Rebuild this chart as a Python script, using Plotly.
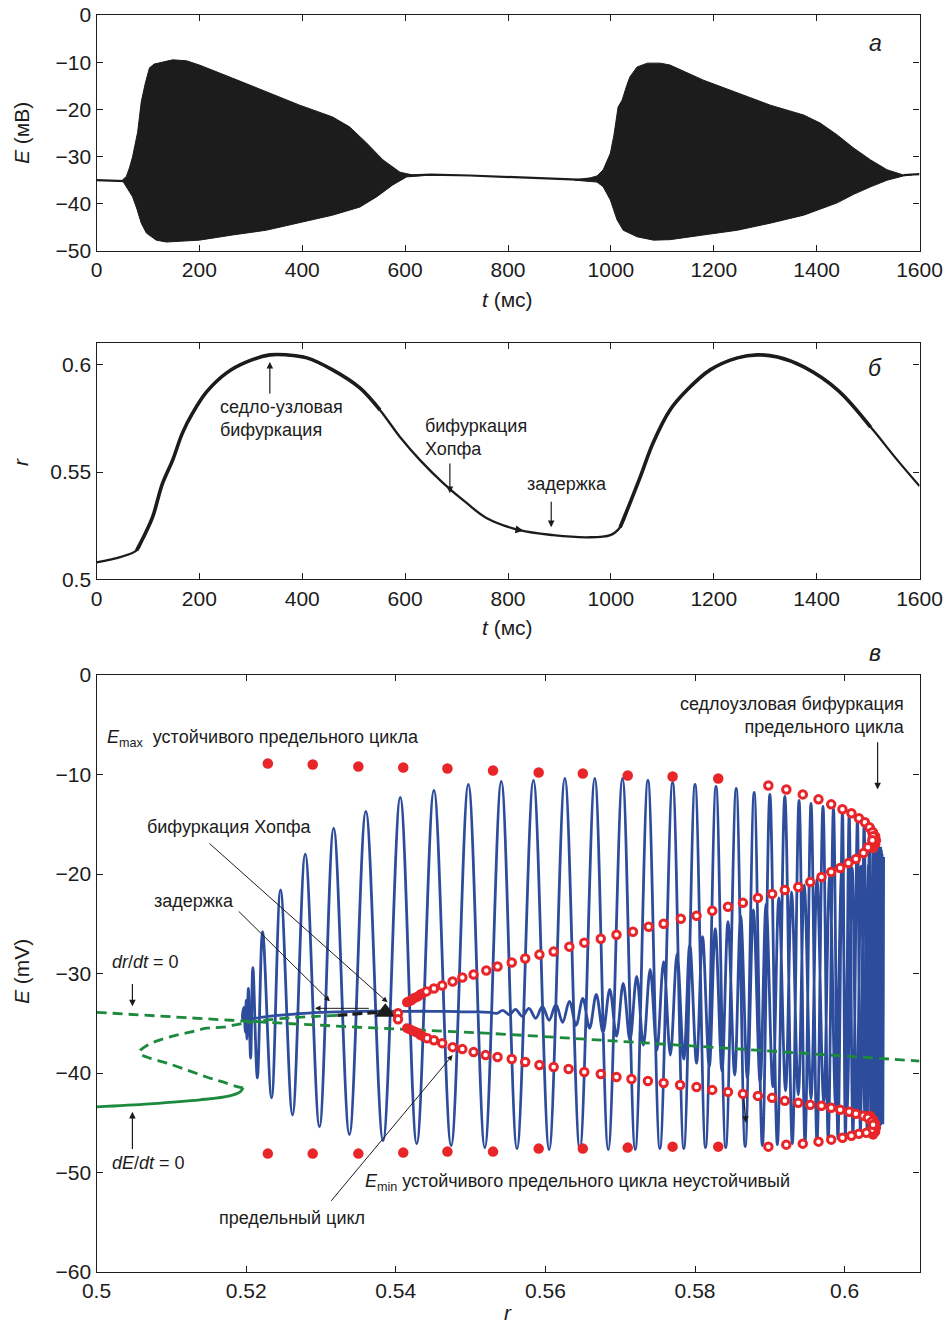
import plotly.graph_objects as go

W, H = 952, 1327
FONT = "Liberation Sans, Arial, sans-serif"
BLACK = "#1c1c1c"
BLUE = "#2e4c9c"
GREEN = "#1b8a3c"
RED = "#e8262a"

def px(x):
    return x / W

def py(y):
    return 1 - y / H

# ---------------- Panel a: E(t) ----------------
t_quiet_a = [0, 30, 55]
E_quiet_a = [-35.0, -35.1, -35.2]
t_quiet_b = [600, 650, 726, 800, 921, 960]
E_quiet_b = [-34.0, -33.8, -34.0, -34.3, -34.9, -35.0]
t_quiet_c = [1569, 1600]
E_quiet_c = [-33.9, -33.7]

t_up1 = [50, 58, 64, 70, 80, 87, 95, 103, 112, 136, 148, 175, 200, 265, 330, 395, 459, 492, 525, 557, 590, 615, 640]
E_up1 = [-35.0, -34.2, -32.4, -30.1, -24.8, -18.4, -14.4, -11.2, -10.4, -9.9, -9.5, -9.7, -10.6, -13.4, -16.3, -19.1, -21.6, -23.7, -27.1, -30.7, -33.3, -33.9, -33.9]
t_lo1 = [50, 58, 70, 78, 87, 97, 116, 136, 200, 265, 330, 395, 459, 512, 545, 576, 603, 640]
E_lo1 = [-35.0, -36.4, -38.5, -40.9, -44.1, -46.2, -47.7, -48.1, -47.7, -46.6, -45.6, -44.0, -42.4, -40.7, -38.5, -36.0, -34.3, -34.0]

t_up2 = [930, 960, 973, 985, 999, 1006, 1014, 1022, 1030, 1037, 1051, 1071, 1096, 1115, 1180, 1246, 1310, 1375, 1407, 1440, 1472, 1505, 1537, 1569, 1585]
E_up2 = [-34.9, -34.5, -34.1, -32.8, -29.3, -25.4, -19.5, -18.0, -15.2, -13.1, -11.0, -10.2, -10.2, -10.6, -13.8, -16.5, -19.1, -21.2, -22.9, -25.4, -28.2, -30.7, -32.8, -33.9, -33.8]
t_lo2 = [930, 960, 973, 985, 999, 1012, 1024, 1051, 1083, 1115, 1180, 1246, 1310, 1375, 1440, 1472, 1505, 1537, 1569, 1585]
E_lo2 = [-35.0, -35.3, -35.4, -36.4, -39.2, -43.4, -45.6, -47.0, -47.7, -47.6, -46.6, -45.6, -44.1, -42.4, -39.8, -38.0, -36.4, -35.0, -34.1, -33.9]

# ---------------- Panel б: r(t) ----------------
t_r = [0, 78, 90, 109, 128, 148, 167, 187, 214, 253, 292, 337, 370, 409, 459, 512, 551, 590, 629, 674,
       720, 759, 823, 888, 953, 999, 1018, 1037, 1057, 1082, 1115, 1148, 1193, 1246, 1285, 1324, 1375,
       1441, 1505, 1557, 1600]
r_t = [0.5079, 0.5135, 0.519, 0.529, 0.5445, 0.5556, 0.5682, 0.5776, 0.5874, 0.5963, 0.6014, 0.6047,
       0.6047, 0.6033, 0.5977, 0.5893, 0.579, 0.5664, 0.5556, 0.5449, 0.5355, 0.5285, 0.5229, 0.5206,
       0.5196, 0.5206, 0.5243, 0.5355, 0.5477, 0.5636, 0.579, 0.5883, 0.5977, 0.6033, 0.6047, 0.6037,
       0.5991, 0.5883, 0.571, 0.5556, 0.5435]
# time windows in which r(t) carries the spiking ripple (thicker trace)
burst_windows = [(78, 551), (1018, 1505)]

# ---------------- Panel в: E vs r ----------------
# rising phase of the burst: spike peaks and troughs
r_rise_pk = [0.5197, 0.5200, 0.5203, 0.5209, 0.5222, 0.5246, 0.5279, 0.5317, 0.5360, 0.5406, 0.5451,
             0.5497, 0.5541, 0.5584, 0.5626, 0.5666, 0.5703, 0.5737, 0.5770, 0.5800, 0.5828, 0.5855,
             0.5879, 0.5900, 0.5920, 0.5939, 0.5955, 0.5971, 0.5985, 0.5997, 0.6006, 0.6017, 0.6026,
             0.6033, 0.6038, 0.6042, 0.6045, 0.6048, 0.6049, 0.6050]
E_rise_pk = [-33.4, -32.7, -31.5, -29.4, -25.8, -21.6, -18.0, -15.4, -13.7, -12.3, -11.6, -11.0, -10.7,
             -10.6, -10.4, -10.4, -10.4, -10.6, -10.8, -11.0, -11.2, -11.4, -11.8, -12.0, -12.2, -12.6,
             -12.9, -13.2, -13.4, -13.8, -14.1, -14.6, -15.1, -15.6, -16.1, -16.6, -17.0, -17.4, -17.7, -18.0]
r_rise_tr = [0.5199, 0.5201, 0.5206, 0.5215, 0.5234, 0.5262, 0.5298, 0.5338, 0.5383, 0.5428, 0.5474,
             0.5519, 0.5562, 0.5605, 0.5646, 0.5684, 0.5720, 0.5753, 0.5785, 0.5814, 0.5841, 0.5867,
             0.5890, 0.5910, 0.5930, 0.5947, 0.5963, 0.5978, 0.5991, 0.6001, 0.6011, 0.6021, 0.6030,
             0.6035, 0.6040, 0.6043, 0.6046, 0.6048, 0.6049, 0.6051]
E_rise_tr = [-35.9, -36.6, -38.5, -40.5, -42.5, -44.2, -45.4, -46.2, -46.8, -47.1, -47.3, -47.5, -47.6,
             -47.7, -47.7, -47.7, -47.7, -47.6, -47.6, -47.5, -47.5, -47.4, -47.3, -47.2, -47.1, -47.0,
             -46.9, -46.7, -46.6, -46.4, -46.2, -46.0, -45.8, -45.6, -45.5, -45.4, -45.3, -45.2, -45.1, -45.0]
# falling phase: decaying oscillations while r decreases
r_fall_pk = [0.6052, 0.6050, 0.6046, 0.6040, 0.6032, 0.6022, 0.6010, 0.5996, 0.5980, 0.5963, 0.5946,
             0.5929, 0.5912, 0.5895, 0.5878, 0.5861, 0.5844, 0.5827, 0.5810, 0.5793, 0.5776, 0.5758,
             0.5740, 0.5722, 0.5704, 0.5686, 0.5668, 0.5650, 0.5632, 0.5614, 0.5596, 0.5578, 0.5560, 0.5543]
E_fall_pk = [-18.3, -18.5, -18.7, -18.9, -19.0, -19.2, -19.4, -19.7, -20.1, -20.5, -21.1, -21.8, -22.4,
             -23.0, -23.6, -24.2, -24.8, -25.5, -26.3, -27.1, -28.0, -28.8, -29.6, -30.3, -31.0, -31.6,
             -32.1, -32.5, -32.8, -33.1, -33.3, -33.5, -33.6, -33.7]
r_fall_tr = [0.6051, 0.6048, 0.6043, 0.6036, 0.6027, 0.6016, 0.6003, 0.5988, 0.5972, 0.5955, 0.5938,
             0.5921, 0.5904, 0.5887, 0.5870, 0.5853, 0.5836, 0.5819, 0.5802, 0.5785, 0.5767, 0.5749,
             0.5731, 0.5713, 0.5695, 0.5677, 0.5659, 0.5641, 0.5623, 0.5605, 0.5587, 0.5569, 0.5552, 0.5535]
E_fall_tr = [-45.0, -44.9, -44.7, -44.5, -44.3, -44.1, -43.8, -43.4, -43.0, -42.6, -42.2, -41.8, -41.4,
             -41.0, -40.6, -40.2, -39.8, -39.4, -39.0, -38.6, -38.2, -37.7, -37.2, -36.7, -36.3, -35.9,
             -35.5, -35.2, -34.9, -34.7, -34.5, -34.3, -34.15, -34.0]
# slow passage (delay) back along the equilibrium
r_delay = [0.5525, 0.5500, 0.5450, 0.5400, 0.5350, 0.5300, 0.5260, 0.5230, 0.5210, 0.5196]
E_delay = [-33.9, -33.85, -33.8, -33.8, -33.8, -33.9, -34.1, -34.3, -34.5, -34.7]

# nullclines
r_drdt = [0.5, 0.518, 0.535, 0.552, 0.58, 0.61]
E_drdt = [-33.9, -34.7, -35.4, -36.0, -37.3, -38.8]
r_dEdt_solid = [0.5, 0.5071, 0.5138, 0.5178, 0.5192, 0.5196]
E_dEdt_solid = [-43.4, -43.1, -42.7, -42.3, -41.9, -41.5]
r_dEdt_dash = [0.5196, 0.5189, 0.5169, 0.5147, 0.5121, 0.5094, 0.5071, 0.5059, 0.5058, 0.5064, 0.5080,
               0.5102, 0.5125, 0.5147, 0.5169, 0.5196, 0.5236, 0.5268, 0.5295, 0.5322]
E_dEdt_dash = [-41.5, -41.4, -40.9, -40.4, -39.7, -39.0, -38.5, -38.1, -37.8, -37.4, -36.8, -36.3, -35.9,
               -35.5, -35.4, -35.0, -34.6, -34.4, -34.3, -34.2]
r_unst_eq = [0.5322, 0.5376]
E_unst_eq = [-34.2, -33.9]
r_hopf = [0.5386]
E_hopf = [-33.9]

# limit cycle extrema
r_stab_fill = [0.5229, 0.5289, 0.5350, 0.5410, 0.5469, 0.5530, 0.5591, 0.5650, 0.5710, 0.5770, 0.5831]
Emax_stab_fill = [-8.9, -9.0, -9.2, -9.3, -9.4, -9.6, -9.8, -9.9, -10.1, -10.2, -10.4]
Emin_stab_fill = [-48.1, -48.1, -48.1, -48.0, -47.9, -47.9, -47.6, -47.6, -47.5, -47.4, -47.4]
r_stab_open_up = [0.5898, 0.5922, 0.5944, 0.5965, 0.5982, 0.5997, 0.6009, 0.6019, 0.6027, 0.6033, 0.6037, 0.6038, 0.6037]
E_stab_open_up = [-11.1, -11.5, -12.0, -12.5, -13.0, -13.5, -13.9, -14.4, -14.8, -15.3, -15.8, -16.2, -16.6]
r_stab_open_lo = [0.6036, 0.6029, 0.6019, 0.6009, 0.5997, 0.5982, 0.5965, 0.5944, 0.5922, 0.5898]
E_stab_open_lo = [-45.7, -46.0, -46.1, -46.3, -46.5, -46.7, -46.9, -47.1, -47.2, -47.4]
r_unst_up = [0.6031, 0.6025, 0.6015, 0.6005, 0.5994, 0.5982, 0.5969, 0.5954, 0.5938, 0.5920, 0.5903,
             0.5884, 0.5864, 0.5844, 0.5823, 0.5802, 0.5781, 0.5758, 0.5738, 0.5717, 0.5695, 0.5674,
             0.5652, 0.5632, 0.5611, 0.5592, 0.5573, 0.5555, 0.5536, 0.5521, 0.5504, 0.5489, 0.5476,
             0.5462, 0.5451, 0.5441, 0.5403, 0.5403]
E_unst_up = [-17.3, -17.9, -18.5, -18.9, -19.4, -19.8, -20.3, -20.8, -21.3, -21.6, -22.0, -22.4, -22.9,
             -23.3, -23.7, -24.2, -24.5, -25.0, -25.3, -25.8, -26.1, -26.5, -26.9, -27.3, -27.8, -28.1,
             -28.5, -28.9, -29.3, -29.7, -30.1, -30.4, -30.8, -31.2, -31.5, -31.8, -34.0, -34.6]
r_unst_lo = [0.5442, 0.5451, 0.5462, 0.5476, 0.5489, 0.5504, 0.5520, 0.5536, 0.5555, 0.5573, 0.5592,
             0.5611, 0.5631, 0.5652, 0.5674, 0.5695, 0.5715, 0.5737, 0.5758, 0.5780, 0.5802, 0.5823,
             0.5844, 0.5864, 0.5884, 0.5903, 0.5920, 0.5938, 0.5954, 0.5969, 0.5982, 0.5994, 0.6006,
             0.6015, 0.6025, 0.6031, 0.6036, 0.6038]
E_unst_lo = [-36.5, -36.7, -37.0, -37.4, -37.6, -37.9, -38.2, -38.4, -38.6, -38.9, -39.2, -39.4, -39.6,
             -39.9, -40.1, -40.4, -40.6, -40.8, -41.0, -41.2, -41.4, -41.7, -41.9, -42.1, -42.3, -42.5,
             -42.8, -43.0, -43.2, -43.3, -43.5, -43.7, -43.9, -44.1, -44.3, -44.5, -44.9, -45.2]
# densely packed extrema (merge into solid red)
r_dense = [0.5415, 0.5418, 0.5421, 0.5424, 0.5427, 0.5430, 0.5433, 0.5436,
           0.5415, 0.5418, 0.5421, 0.5424, 0.5427, 0.5430, 0.5433, 0.5436,
           0.6034, 0.6038, 0.6041, 0.6042, 0.6041, 0.6038,
           0.6034, 0.6038, 0.6041, 0.6042, 0.6041, 0.6038]
E_dense = [-32.9, -32.8, -32.7, -32.5, -32.4, -32.3, -32.1, -32.0,
           -35.5, -35.6, -35.7, -35.8, -35.9, -36.0, -36.2, -36.3,
           -15.4, -15.8, -16.2, -16.6, -17.0, -17.4,
           -44.3, -44.7, -45.1, -45.5, -45.9, -46.2]

AX = dict(showline=True, linecolor=BLACK, linewidth=1.3, mirror="ticks", ticks="inside",
          ticklen=6, tickwidth=1.2, tickcolor=BLACK, showgrid=False, zeroline=False,
          automargin=False, tickfont=dict(family=FONT, size=21, color=BLACK))
XDOM = [px(96.5), px(919.5)]

fig = go.Figure()

# ----- panel a traces
for tq, eq in [(t_quiet_a, E_quiet_a), (t_quiet_b, E_quiet_b), (t_quiet_c, E_quiet_c)]:
    fig.add_trace(go.Scatter(x=tq, y=eq, xaxis="x", yaxis="y", mode="lines",
                             line=dict(color=BLACK, width=2.2), hoverinfo="skip"))
for tu, eu, tl, el in [(t_up1, E_up1, t_lo1, E_lo1), (t_up2, E_up2, t_lo2, E_lo2)]:
    fig.add_trace(go.Scatter(x=tu + tl[::-1], y=eu + el[::-1], xaxis="x", yaxis="y", mode="lines",
                             fill="toself", fillcolor=BLACK, line=dict(color=BLACK, width=1),
                             hoverinfo="skip"))

# ----- panel б
fig.add_trace(go.Scatter(x=t_r, y=r_t, xaxis="x2", yaxis="y2", mode="lines", line_shape="spline",
                         line=dict(color=BLACK, width=2.3), hoverinfo="skip"))
for t0, t1 in burst_windows:
    sel = [i for i, tv in enumerate(t_r) if t0 <= tv <= t1]
    fig.add_trace(go.Scatter(x=[t_r[i] for i in sel], y=[r_t[i] for i in sel], xaxis="x2", yaxis="y2",
                             mode="lines", line_shape="spline", line=dict(color=BLACK, width=3.6),
                             hoverinfo="skip"))

# ----- panel в: trajectory
r_path = [r_delay[-1]]
E_path = [E_delay[-1]]
for a, b, c, d in zip(r_rise_pk, E_rise_pk, r_rise_tr, E_rise_tr):
    r_path += [a, c]
    E_path += [b, d]
for a, b, c, d in zip(r_fall_pk, E_fall_pk, r_fall_tr, E_fall_tr):
    r_path += [a, c]
    E_path += [b, d]
r_path += r_delay
E_path += E_delay
fig.add_trace(go.Scatter(x=r_path, y=E_path, xaxis="x3", yaxis="y3", mode="lines", line_shape="spline",
                         line=dict(color=BLUE, width=2.8), hoverinfo="skip"))

# nullclines
fig.add_trace(go.Scatter(x=r_drdt, y=E_drdt, xaxis="x3", yaxis="y3", mode="lines", line_shape="spline",
                         line=dict(color=GREEN, width=2.8, dash="10px,6px"), hoverinfo="skip"))
fig.add_trace(go.Scatter(x=r_dEdt_solid, y=E_dEdt_solid, xaxis="x3", yaxis="y3", mode="lines",
                         line_shape="spline", line=dict(color=GREEN, width=2.8), hoverinfo="skip"))
fig.add_trace(go.Scatter(x=r_dEdt_dash, y=E_dEdt_dash, xaxis="x3", yaxis="y3", mode="lines",
                         line_shape="spline", line=dict(color=GREEN, width=2.8, dash="10px,6px"),
                         hoverinfo="skip"))
fig.add_trace(go.Scatter(x=r_unst_eq, y=E_unst_eq, xaxis="x3", yaxis="y3", mode="lines",
                         line=dict(color=BLACK, width=3.2, dash="10px,5px"), hoverinfo="skip"))
fig.add_trace(go.Scatter(x=r_hopf, y=E_hopf, xaxis="x3", yaxis="y3", mode="markers",
                         marker=dict(symbol="triangle-up", size=18, color=BLACK), hoverinfo="skip"))

# limit cycle extrema
fig.add_trace(go.Scatter(x=r_dense, y=E_dense, xaxis="x3", yaxis="y3", mode="markers",
                         marker=dict(size=10, color=RED), hoverinfo="skip"))
for rr, ee in [(r_stab_open_up, E_stab_open_up), (r_stab_open_lo, E_stab_open_lo),
               (r_unst_up, E_unst_up), (r_unst_lo, E_unst_lo)]:
    fig.add_trace(go.Scatter(x=rr, y=ee, xaxis="x3", yaxis="y3", mode="markers",
                             marker=dict(size=7.5, color="white", line=dict(color=RED, width=3)),
                             hoverinfo="skip"))
for ee in [Emax_stab_fill, Emin_stab_fill]:
    fig.add_trace(go.Scatter(x=r_stab_fill, y=ee, xaxis="x3", yaxis="y3", mode="markers",
                             marker=dict(size=10.5, color=RED), hoverinfo="skip"))

# ----- annotations
ann = []

def text(x, y, s, xa="left", size=18, italic=False, angle=0, align="left"):
    if italic:
        s = "<i>" + s + "</i>"
    ann.append(dict(x=px(x), y=py(y), xref="paper", yref="paper", text=s, showarrow=False,
                    xanchor=xa, yanchor="middle", textangle=angle, align=align,
                    font=dict(family=FONT, size=size, color=BLACK)))

def arrow(xr, yr, x0, y0, x1, y1, head=2, width=1.2, size=1.1):
    ann.append(dict(x=x1, y=y1, ax=x0, ay=y0, xref=xr, yref=yr, axref=xr, ayref=yr, text="",
                    showarrow=True, arrowhead=head, arrowsize=size, arrowwidth=width,
                    arrowcolor=BLACK, standoff=0, startstandoff=0))

# panel labels & axis titles
text(875, 43, "а", xa="center", size=23, italic=True)
text(875, 368, "б", xa="center", size=23, italic=True)
text(875, 653, "в", xa="center", size=23, italic=True)
text(21, 133, "<i>E</i> (мВ)", xa="center", size=21, angle=-90)
text(507, 299, "<i>t</i> (мс)", xa="center", size=21)
text(21, 462, "<i>r</i>", xa="center", size=21, angle=-90)
text(507, 628, "<i>t</i> (мс)", xa="center", size=21)
text(21, 972, "<i>E</i> (mV)", xa="center", size=21, angle=-90)
text(508, 1312, "<i>r</i>", xa="center", size=21)

# panel б texts and arrows
text(218, 418, "седло-узловая<br>бифуркация")
text(423, 437, "бифуркация<br>Хопфа")
text(525, 484, "задержка")
arrow("x2", "y2", 337, 0.586, 337, 0.6014)
arrow("x2", "y2", 687, 0.5547, 687, 0.5402)
arrow("x2", "y2", 884, 0.5369, 884, 0.5243)
arrow("x2", "y2", 808, 0.5236, 830, 0.5226, width=1.6, size=1.0)

# panel в texts and arrows
text(105, 738, "<i>E</i><sub>max</sub>  устойчивого предельного цикла")
text(907, 715, "седлоузловая бифуркация<br>предельного цикла", xa="right", align="right")
text(145, 827, "бифуркация Хопфа")
text(152, 901, "задержка")
text(110, 962, "<i>dr</i>/<i>dt</i> = 0")
text(110, 1163, "<i>dE</i>/<i>dt</i> = 0")
text(363, 1182, "<i>E</i><sub>min</sub> устойчивого предельного цикла неустойчивый")
text(217, 1218, "предельный цикл")
arrow("x3", "y3", 0.5149, -16.8, 0.5389, -32.9, width=1.0)
arrow("x3", "y3", 0.5188, -23.6, 0.5312, -32.8, width=1.0)
arrow("x3", "y3", 0.5366, -33.5, 0.5292, -33.5, width=1.0)
arrow("x3", "y3", 0.5048, -30.9, 0.5048, -33.3)
arrow("x3", "y3", 0.5048, -47.8, 0.5048, -43.9)
arrow("x3", "y3", 0.5312, -53.0, 0.5476, -38.2, width=1.0)
arrow("x3", "y3", 0.6044, -6.6, 0.6044, -11.5)
arrow("x3", "y3", 0.5865, -42.4, 0.5868, -45.0)

fig.update_layout(
    width=W, height=H, margin=dict(l=0, r=0, t=0, b=0, pad=0, autoexpand=False),
    paper_bgcolor="white", plot_bgcolor="white", showlegend=False,
    font=dict(family=FONT, size=18, color=BLACK),
    xaxis=dict(AX, domain=XDOM, anchor="y", range=[0, 1600], tickvals=list(range(0, 1601, 200))),
    yaxis=dict(AX, domain=[py(251), py(15)], anchor="x", range=[-50, 0], tickvals=[0, -10, -20, -30, -40, -50]),
    xaxis2=dict(AX, domain=XDOM, anchor="y2", range=[0, 1600], tickvals=list(range(0, 1601, 200))),
    yaxis2=dict(AX, domain=[py(579.3), py(343.3)], anchor="x2", range=[0.5, 0.6101],
                tickvals=[0.5, 0.55, 0.6], ticktext=["0.5", "0.55", "0.6"]),
    xaxis3=dict(AX, domain=XDOM, anchor="y3", range=[0.5, 0.61],
                tickvals=[0.5, 0.52, 0.54, 0.56, 0.58, 0.6],
                ticktext=["0.5", "0.52", "0.54", "0.56", "0.58", "0.6"]),
    yaxis3=dict(AX, domain=[py(1272), py(675)], anchor="x3", range=[-60, 0],
                tickvals=[0, -10, -20, -30, -40, -50, -60]),
    annotations=ann,
)

fig.write_html("out.html")
